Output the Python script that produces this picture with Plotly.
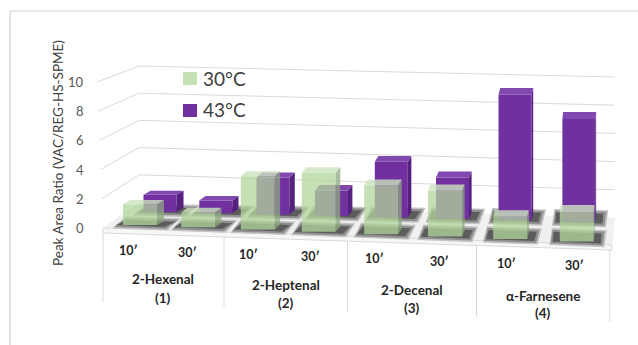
import numpy as np
import plotly.graph_objects as go

# ---- data -------------------------------------------------------------
compounds = ["2-Hexenal", "2-Heptenal", "2-Decenal", "α-Farnesene"]
compound_ids = ["(1)", "(2)", "(3)", "(4)"]
times = ["10′", "30′"]
ratio_30C = [1.4, 1.0, 3.6, 4.0, 3.3, 3.1, 1.5, 2.0]
ratio_43C = [1.2, 0.9, 2.6, 1.8, 3.9, 2.9, 8.8, 7.2]
y_ticks = [0, 2, 4, 6, 8, 10]
series_names = ["30°C", "43°C"]

GREEN = "rgba(178,214,155,0.75)"
GREEN_SWATCH = "#c5e0b4"
PURPLE = "#7030a0"
GRID = "#d9d9d9"

W, H = 638, 345

# ---- pseudo-3D geometry (screen pixels) -------------------------------
n = len(ratio_30C)
idx = np.arange(n)
front_c = 140 + 57.5 * idx + 0.7 * idx ** 2          # front-row bar centres
t = (front_c - 140) / 439.0
row_dx = 20 - 18 * t                                  # depth step (right)
row_dy = 12 + 8 * t                                   # depth step (up)
back_c = front_c + row_dx                             # back-row bar centres
BW_FRONT, BW_BACK = 34, 33

S_G, P_G, SLOPE_G = 14.8, 225.0, 0.038                # front row scale
S_P, P_P, SLOPE_P = 14.3, 212.0, 0.024                # back row scale

g_base_px = P_G + SLOPE_G * (front_c - 140)
p_base_px = P_P + SLOPE_P * (back_c - 160)
g_base = (P_G - g_base_px) / S_G
p_base = (P_P - p_base_px) / S_P


def px(x):
    return x / W


def py(y):
    return 1 - y / H


def path(points):
    return "M" + " L".join(f"{px(x):.5f},{py(y):.5f}" for x, y in points) + " Z"


shapes = []

# frame
shapes.append(dict(type="line", xref="paper", yref="paper", x0=px(10), x1=1,
                   y0=py(11), y1=py(11), line=dict(color="#d0d0d0", width=1.2)))
shapes.append(dict(type="line", xref="paper", yref="paper", x0=px(10), x1=px(10),
                   y0=py(11), y1=0, line=dict(color="#d0d0d0", width=1.2)))

# back wall and side wall gridlines
for v in y_ticks[1:]:
    shapes.append(dict(type="line", xref="paper", yref="paper",
                       x0=px(139), y0=py(202 - 13.6 * v), x1=px(615), y1=py(218 - 14.1 * v),
                       line=dict(color=GRID, width=1), layer="below"))
    shapes.append(dict(type="line", xref="paper", yref="paper",
                       x0=px(103 - 0.6 * v), y0=py(228 - 14.6 * v), x1=px(139), y1=py(202 - 13.6 * v),
                       line=dict(color=GRID, width=1), layer="below"))

# floor
shapes.append(dict(type="path", xref="paper", yref="paper",
                   path=path([(103, 228), (139, 202), (615, 218), (612, 245)]),
                   fillcolor="#f0f0f0", line=dict(width=0), layer="below"))
shapes.append(dict(type="path", xref="paper", yref="paper",
                   path=path([(103, 228), (612, 245), (612, 250), (103, 233)]),
                   fillcolor="#f7f7f7", line=dict(color=GRID, width=1), layer="below"))


def cell(c, w, base_fn, ddx, ddy, grow, color):
    xl, xr = c - w / 2 - 8 - grow, c + w / 2 + 8 + grow
    fl, fr = (xl, base_fn(xl) + 2 + grow), (xr, base_fn(xr) + 2 + grow)
    k = 0.6
    bx, by = k * ddx + grow * 0.5, k * ddy + 2 * grow
    pts = [fl, fr, (fr[0] + bx, fr[1] - by), (fl[0] + bx, fl[1] - by)]
    return dict(type="path", xref="paper", yref="paper", path=path(pts),
                fillcolor=color, line=dict(width=0), layer="below")


# soft shadows under each bar on the floor
for grow, col in [(2.5, "#c4c4c4"), (1.0, "#8f8f8f"), (-1.0, "#5c5c5c")]:
    for i in range(n):
        shapes.append(cell(back_c[i], BW_BACK, lambda x: P_P + SLOPE_P * (x - 160),
                           row_dx[i], row_dy[i], grow, col))
        shapes.append(cell(front_c[i], BW_FRONT, lambda x: P_G + SLOPE_G * (x - 140),
                           row_dx[i], row_dy[i], grow, col))

# category table under the floor
mids = [(front_c[2 * k + 1] + front_c[2 * k + 2]) / 2 for k in range(3)]
seps = [front_c[0] - 37] + [m - (5 - 5 * (m - 140) / 440) for m in mids] + [front_c[-1] + 33]
for j, sx in enumerate(seps):
    shapes.append(dict(type="line", xref="paper", yref="paper",
                       x0=px(sx), x1=px(sx), y0=py(233 + 17 * (sx - 103) / 509),
                       y1=py(302 + 20 * (sx - 103) / 509),
                       line=dict(color=GRID, width=1)))

# legend swatches
shapes.append(dict(type="rect", xref="paper", yref="paper", x0=px(183), x1=px(197),
                   y0=py(85), y1=py(72), fillcolor=GREEN_SWATCH, line=dict(width=0)))
shapes.append(dict(type="rect", xref="paper", yref="paper", x0=px(183), x1=px(197),
                   y0=py(117), y1=py(104), fillcolor=PURPLE, line=dict(width=0)))

# ---- bar faces (top / right side) --------------------------------------
F = 0.35


def faces(centers, width, values, base_px, p0, s):
    top_x, top_y, side_x, side_y = [], [], [], []
    for c, v, b, dx, dy in zip(centers, values, base_px, row_dx, row_dy):
        xl, xr = c - width / 2, c + width / 2
        T = b - v * s
        ddx, ddy = F * dx, F * dy
        to_u = lambda p: (p0 - p) / s
        top_x += [xl, xr, xr + ddx, xl + ddx, xl, None]
        top_y += [to_u(T), to_u(T), to_u(T - ddy), to_u(T - ddy), to_u(T), None]
        side_x += [xr, xr + ddx, xr + ddx, xr, xr, None]
        side_y += [to_u(T), to_u(T - ddy), to_u(b - ddy), to_u(b), to_u(T), None]
    return top_x, top_y, side_x, side_y


fig = go.Figure()

# back row (43 °C)
fig.add_trace(go.Bar(x=back_c, y=ratio_43C, base=p_base, width=BW_BACK,
                     marker=dict(color=PURPLE, line=dict(width=0)),
                     name=series_names[1], xaxis="x", yaxis="y"))
tx, ty, sx_, sy_ = faces(back_c, BW_BACK, ratio_43C, p_base_px, P_P, S_P)
fig.add_trace(go.Scatter(x=sx_, y=sy_, fill="toself", mode="lines", line=dict(width=0),
                         fillcolor="#56207e", hoverinfo="skip", yaxis="y"))
fig.add_trace(go.Scatter(x=tx, y=ty, fill="toself", mode="lines", line=dict(width=0),
                         fillcolor="#8148b0", hoverinfo="skip", yaxis="y"))

# front row (30 °C), translucent
fig.add_trace(go.Bar(x=front_c, y=ratio_30C, base=g_base, width=BW_FRONT,
                     marker=dict(color=GREEN, line=dict(width=0)),
                     name=series_names[0], xaxis="x", yaxis="y2"))
tx, ty, sx_, sy_ = faces(front_c, BW_FRONT, ratio_30C, g_base_px, P_G, S_G)
fig.add_trace(go.Scatter(x=sx_, y=sy_, fill="toself", mode="lines", line=dict(width=0),
                         fillcolor="rgba(140,170,125,0.75)", hoverinfo="skip", yaxis="y2"))
fig.add_trace(go.Scatter(x=tx, y=ty, fill="toself", mode="lines", line=dict(width=0),
                         fillcolor="rgba(205,228,190,0.8)", hoverinfo="skip", yaxis="y2"))

# ---- text -------------------------------------------------------------
FONT = "Lato"
ann = []


def label(x, y, text, size, color, bold=False, **kw):
    font = dict(family=FONT, size=size, color=color)
    if bold:
        font["weight"] = "bold"
    d = dict(x=px(x), y=py(y), xref="paper", yref="paper", text=text,
             showarrow=False, xanchor="center", yanchor="middle", font=font)
    d.update(kw)
    ann.append(d)


for v in y_ticks:
    label(86, 228 - 14.6 * v, str(v), 13, "#595959", xanchor="right")
label(58, 153, "Peak Area Ratio (VAC/REG-HS-SPME)", 13.5, "#404040", textangle=-90)

for i in range(n):
    label(front_c[i] - (12 - 10 * t[i]), 250 + 16 * t[i], times[i % 2], 12.5, "#262626", bold=True)
for k in range(4):
    cx = (seps[k] + seps[k + 1]) / 2
    base_y = 279 + 17 * (k / 3.0)
    label(cx, base_y, compounds[k], 13.5, "#262626", bold=True)
    label(cx, base_y + 19 - 2 * k / 3.0, compound_ids[k], 13.5, "#262626", bold=True)

label(201, 78, series_names[0], 19, "#404040", xanchor="left")
label(201, 110, series_names[1], 19, "#404040", xanchor="left")

fig.update_layout(
    width=W, height=H, margin=dict(l=0, r=0, t=0, b=0),
    paper_bgcolor="white", plot_bgcolor="white",
    barmode="overlay", showlegend=False,
    xaxis=dict(range=[0, W], visible=False, domain=[0, 1], fixedrange=True),
    yaxis=dict(range=[(P_P - H) / S_P, P_P / S_P], visible=False, fixedrange=True),
    yaxis2=dict(range=[(P_G - H) / S_G, P_G / S_G], visible=False, overlaying="y",
                fixedrange=True),
    shapes=shapes, annotations=ann,
)

fig.write_html("out.html")
